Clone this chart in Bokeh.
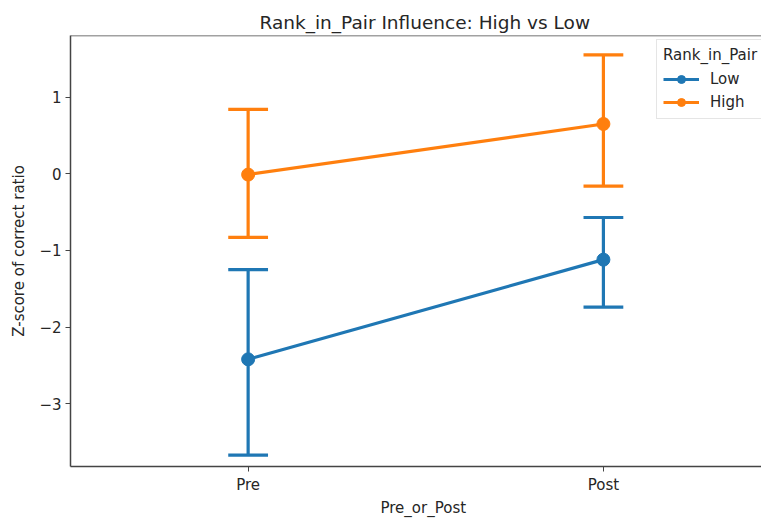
from bokeh.plotting import figure
from bokeh.models import (ColumnDataSource, FixedTicker, Legend, LegendItem, Span, Title)
from bokeh.embed import file_html
from bokeh.resources import INLINE

# ---- data ----
categories = ["Pre", "Post"]
groups = ["Low", "High"]
low_mean = [-2.42, -1.12]
low_lo = [-3.67, -1.74]
low_hi = [-1.25, -0.57]
high_mean = [-0.01, 0.65]
high_lo = [-0.83, -0.16]
high_hi = [0.84, 1.55]
colors = {"Low": "#1f77b4", "High": "#ff7f0e"}

FONT = "DejaVu Sans"
TXT = "#262626"

p = figure(width=761, height=519, output_backend="svg", toolbar_location=None,
           x_range=(-0.5, 1.445), y_range=(-3.818, 1.804),
           min_border_left=70, min_border_right=0, min_border_top=35, min_border_bottom=53)
p.title = None
p.add_layout(Title(text="Rank_in_Pair Influence: High vs Low", align="left", offset=189,
                   text_font=FONT, text_font_size="18.5px", text_font_style="normal",
                   text_color=TXT, standoff=6), "above")

p.grid.visible = False
p.outline_line_color = None
p.background_fill_color = "white"
p.border_fill_color = "white"

xs = list(range(len(categories)))
p.xaxis.ticker = FixedTicker(ticks=xs)
p.xaxis.major_label_overrides = {i: c for i, c in enumerate(categories)}
p.yaxis.ticker = FixedTicker(ticks=[-3, -2, -1, 0, 1])
p.yaxis.major_label_overrides = {-3: "\u22123", -2: "\u22122", -1: "\u22121", 0: "0", 1: "1"}
p.yaxis.axis_label = "Z-score of correct ratio"
for ax in (p.xaxis[0], p.yaxis[0]):
    ax.axis_label_text_font = FONT
    ax.axis_label_text_font_size = "15px"
    ax.axis_label_text_font_style = "normal"
    ax.axis_label_text_color = TXT
    ax.major_label_text_font = FONT
    ax.major_label_text_font_size = "15px"
    ax.major_label_text_color = TXT
    ax.axis_line_color = "#444444"
    ax.axis_line_width = 1.5
    ax.major_tick_line_color = "#444444"
    ax.major_tick_out = 5
    ax.major_tick_in = 0
    ax.minor_tick_line_color = None
p.yaxis.axis_label_standoff = 8
p.yaxis.major_label_standoff = 4
p.xaxis.major_label_standoff = 4

p.add_layout(Title(text="Pre_or_Post", align="left", offset=310,
                   text_font=FONT, text_font_size="15px", text_font_style="normal",
                   text_color=TXT, standoff=0), "below")

p.add_layout(Span(location=1.804, dimension="width", line_color="#444444", line_width=1.5,
                  level="overlay"))

cap = 0.056
items = []
for g, m, lo, hi in [("Low", low_mean, low_lo, low_hi), ("High", high_mean, high_lo, high_hi)]:
    c = colors[g]
    src = ColumnDataSource(dict(x=xs, m=m, lo=lo, hi=hi,
                                xl=[x - cap for x in xs], xr=[x + cap for x in xs]))
    p.segment(x0="x", y0="lo", x1="x", y1="hi", source=src, line_color=c, line_width=3.2)
    p.segment(x0="xl", y0="lo", x1="xr", y1="lo", source=src, line_color=c, line_width=3.2)
    p.segment(x0="xl", y0="hi", x1="xr", y1="hi", source=src, line_color=c, line_width=3.2)
    ln = p.line(x="x", y="m", source=src, line_color=c, line_width=3.2)
    sc = p.scatter(x="x", y="m", source=src, size=13, fill_color=c, line_color=c)
    items.append(LegendItem(label=g, renderers=[ln, sc]))

legend = Legend(items=items, location=(586, 347), title="Rank_in_Pair",
                title_text_font=FONT, title_text_font_size="15px", title_text_font_style="normal",
                title_text_color=TXT, title_standoff=5,
                label_text_font=FONT, label_text_font_size="15px", label_text_color=TXT,
                glyph_width=36, glyph_height=20, label_height=20, spacing=3,
                label_standoff=11, padding=6, margin=0,
                border_line_color="#cccccc", border_line_width=1,
                background_fill_color="white", background_fill_alpha=0.9)
p.add_layout(legend, "center")

open("out.html", "w").write(file_html(p, INLINE))
